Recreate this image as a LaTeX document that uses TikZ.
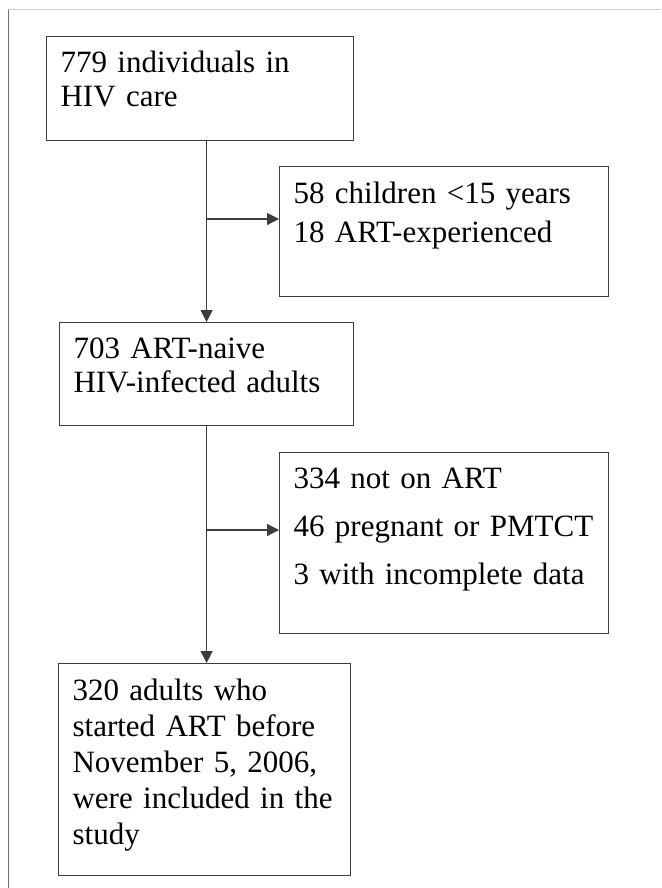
\documentclass[tikz,border=0pt]{standalone}
\usepackage{fontspec}
\setmainfont{Liberation Serif}
\usetikzlibrary{arrows.meta}

\definecolor{boxgray}{HTML}{3C3C3C}
\definecolor{edgegray}{HTML}{707070}
\definecolor{rulegray}{HTML}{CFCFCF}

\begin{document}
\begin{tikzpicture}[
  x=1pt, y=-1pt,
  box/.style={draw=boxgray, line width=1.2pt, anchor=north west, align=left,
              inner xsep=14pt, inner ysep=0pt, font=\fontsize{31}{#1}\selectfont},
  flow/.style={-{Triangle[length=12pt,width=12pt]}, line width=1.2pt, draw=boxgray}
]
\useasboundingbox (0,0) rectangle (661,888);

% ── page edges ───────────────────────────────────────────────────────
\draw[rulegray, line width=1pt] (8,10) -- (661,10);
\draw[edgegray, line width=1pt] (8,10) -- (8,888);

% ── main column ──────────────────────────────────────────────────────
\node[box=34, text width=279pt, text height=36pt, text depth=68pt] (care)
  at (46,36) {779 individuals in\\HIV care};
\node[box=34, text width=266pt, text height=36pt, text depth=67pt] (naive)
  at (59,322) {703 ART-naive\\HIV-infected adults};
\node[box=36, text width=264pt, text height=37pt, text depth=175pt] (study)
  at (58,663) {320 adults who\\started ART before\\November 5, 2006,\\were included in the\\study};

% ── exclusions (right) ───────────────────────────────────────────────
\node[box=39, text width=301pt, text height=37pt, text depth=93pt] (excl1)
  at (279,166) {58 children <15 years\\18 ART-experienced};
\node[box=48, text width=301pt, text height=36pt, text depth=145pt] (excl2)
  at (279,452) {334 not on ART\\46 pregnant or PMTCT\\3 with incomplete data};

% ── flow ─────────────────────────────────────────────────────────────
\coordinate (split1) at (206,219);
\coordinate (split2) at (206,530);
\draw[flow] (care.south -| naive.north) -- (naive.north);
\draw[flow] (split1) -- (split1 -| excl1.west);
\draw[flow] (naive.south) -- (naive.south |- study.north);
\draw[flow] (split2) -- (split2 -| excl2.west);

\end{tikzpicture}
\end{document}
